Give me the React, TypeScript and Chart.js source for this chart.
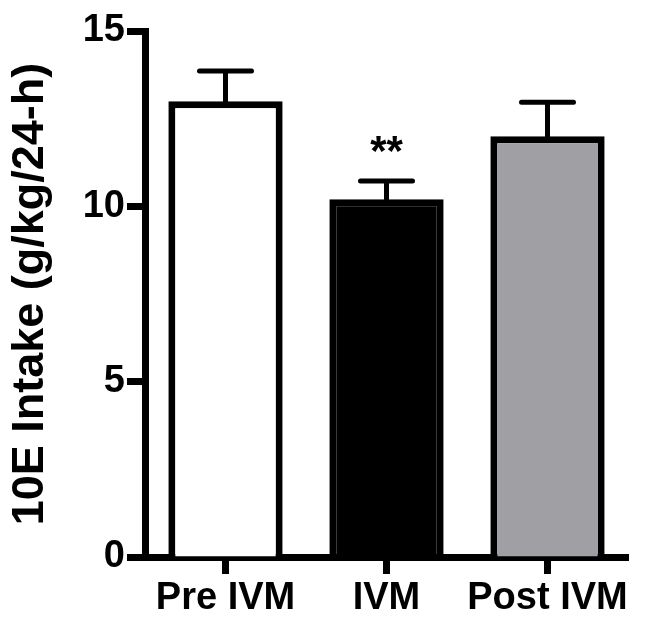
import React, { useEffect, useRef } from "react";
import { Chart, registerables } from "chart.js";

Chart.register(...registerables);

const categories = ["Pre IVM", "IVM", "Post IVM"];
const means = [13.0, 10.2, 12.0];
const sems = [0.86, 0.52, 0.97];
const significance = ["", "**", ""];
const yTicks = [0, 5, 10, 15];
const fills = ["#ffffff", "#000000", "#a09fa4"];

const FONT = "'Liberation Sans', Arial, Helvetica, sans-serif";

const errorBarPlugin = {
  id: "errorBars",
  afterDatasetsDraw(chart: any) {
    const ctx = chart.ctx;
    const meta = chart.getDatasetMeta(0);
    const yScale = chart.scales.y;
    ctx.save();
    ctx.strokeStyle = "#000";
    ctx.fillStyle = "#000";
    ctx.lineWidth = 5;
    ctx.lineCap = "round";
    meta.data.forEach((bar: any, i: number) => {
      const x = bar.x;
      const yBase = yScale.getPixelForValue(means[i]);
      const yTop = yScale.getPixelForValue(means[i] + sems[i]);
      ctx.beginPath();
      ctx.moveTo(x, yBase);
      ctx.lineTo(x, yTop);
      ctx.moveTo(x - 26, yTop);
      ctx.lineTo(x + 26, yTop);
      ctx.stroke();
      if (significance[i]) {
        ctx.font = `bold 42px ${FONT}`;
        ctx.textAlign = "center";
        ctx.textBaseline = "alphabetic";
        ctx.fillText(significance[i], x, yTop - 16);
      }
    });
    ctx.restore();
  },
};

export default function App() {
  const ref = useRef<HTMLCanvasElement | null>(null);

  useEffect(() => {
    if (!ref.current) return;
    const chart = new Chart(ref.current, {
      type: "bar",
      data: {
        labels: categories,
        datasets: [
          {
            data: means,
            backgroundColor: fills,
            borderColor: "#000",
            borderWidth: 7,
            borderSkipped: "start",
            barPercentage: 0.71,
            categoryPercentage: 1,
          },
        ],
      },
      options: {
        animation: false,
        responsive: true,
        maintainAspectRatio: false,
        devicePixelRatio: 1,
        layout: { padding: { top: 31, right: 21, bottom: 0, left: 0 } },
        plugins: {
          legend: { display: false },
          tooltip: { enabled: false },
        },
        scales: {
          x: {
            z: 1,
            offset: true,
            grid: {
              display: true,
              offset: false,
              drawOnChartArea: false,
              drawTicks: true,
              tickLength: 17,
              tickWidth: 7,
              tickColor: "#000",
            },
            border: { display: true, width: 7, color: "#000" },
            ticks: {
              color: "#000",
              padding: 2,
              font: { family: FONT, size: 38, weight: "bold" },
              maxRotation: 0,
              autoSkip: false,
            },
            afterFit: (scale: any) => {
              scale.height = 70;
            },
          },
          y: {
            z: 1,
            min: 0,
            max: 15,
            afterBuildTicks: (scale: any) => {
              scale.ticks = yTicks.map((v) => ({ value: v }));
            },
            grid: {
              display: true,
              drawOnChartArea: false,
              drawTicks: true,
              tickLength: 18,
              tickWidth: 7,
              tickColor: "#000",
            },
            border: { display: true, width: 7, color: "#000" },
            ticks: {
              color: "#000",
              padding: 2,
              font: { family: FONT, size: 38, weight: "bold" },
            },
            title: {
              display: true,
              text: "10E Intake (g/kg/24-h)",
              color: "#000",
              font: { family: FONT, size: 45, weight: "bold" },
              padding: { top: 4, bottom: 0 },
            },
            afterFit: (scale: any) => {
              scale.width = 145;
            },
          },
        },
      },
      plugins: [errorBarPlugin],
    });
    return () => chart.destroy();
  }, []);

  return (
    <div
      style={{
        position: "absolute",
        left: 0,
        top: 0,
        width: 649,
        height: 627,
        background: "#fff",
      }}
    >
      <canvas ref={ref} />
    </div>
  );
}
